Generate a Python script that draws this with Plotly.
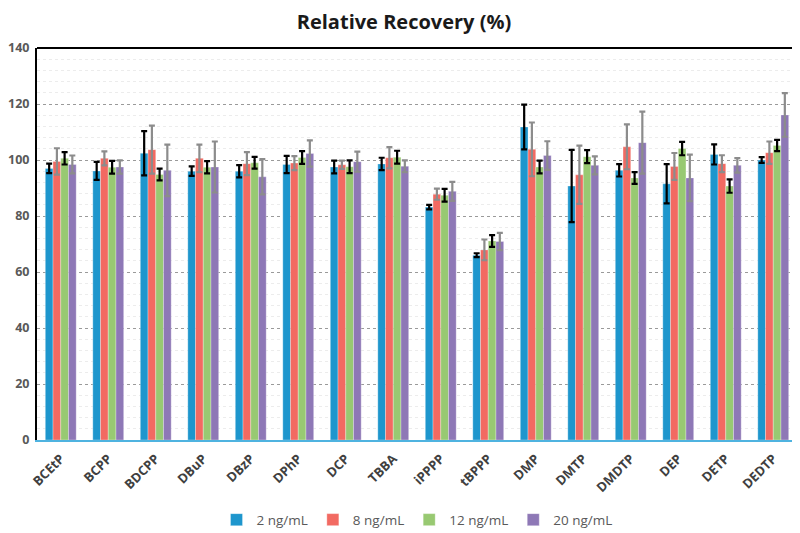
import plotly.graph_objects as go

categories = ["BCEtP", "BCPP", "BDCPP", "DBuP", "DBzP", "DPhP", "DCP", "TBBA",
              "iPPPP", "tBPPP", "DMP", "DMTP", "DMDTP", "DEP", "DETP", "DEDTP"]

series_names = ["2 ng/mL", "8 ng/mL", "12 ng/mL", "20 ng/mL"]

vals_2 = [97.0, 96.1, 102.4, 96.0, 96.0, 98.4, 97.5, 98.6, 83.2, 66.0, 111.8, 90.7, 96.3, 91.5, 102.0, 100.0]
err_2 = [1.7, 3.2, 7.9, 1.7, 2.2, 3.1, 2.3, 2.2, 0.8, 0.7, 8.0, 12.9, 2.2, 7.0, 3.6, 1.0]

vals_8 = [99.5, 100.6, 103.7, 100.6, 98.7, 98.9, 98.3, 100.8, 87.8, 67.9, 103.8, 94.7, 104.7, 97.7, 98.7, 102.6]
err_8 = [4.7, 2.5, 8.6, 4.9, 4.1, 2.5, 1.5, 3.8, 2.0, 3.7, 9.6, 10.4, 8.0, 4.8, 3.0, 4.0]

vals_12 = [100.6, 97.4, 94.8, 97.4, 99.0, 100.9, 97.6, 101.0, 87.4, 71.1, 97.5, 101.2, 93.6, 104.1, 90.7, 105.2]
err_12 = [2.2, 2.3, 2.1, 2.2, 2.1, 2.3, 2.3, 2.3, 2.3, 2.1, 2.3, 2.3, 2.1, 2.4, 2.4, 2.0]

vals_20 = [98.4, 97.5, 96.3, 97.5, 94.0, 102.3, 99.4, 97.8, 88.8, 70.9, 101.6, 98.1, 106.2, 93.6, 98.1, 116.1]
err_20 = [3.2, 2.4, 9.2, 9.1, 6.3, 4.7, 3.6, 2.1, 3.4, 3.1, 5.1, 3.2, 11.1, 8.3, 2.6, 7.8]

colors = ["#1E96CD", "#F26A62", "#98C972", "#8E78B6"]
err_colors = ["#000000", "#8C8C8C", "#000000", "#8C8C8C"]

fig = go.Figure()
for name, v, e, c, ec in zip(series_names, [vals_2, vals_8, vals_12, vals_20],
                             [err_2, err_8, err_12, err_20], colors, err_colors):
    fig.add_trace(go.Bar(
        x=categories, y=v, name=name,
        marker=dict(color=c, line=dict(color="rgba(255,255,255,0.6)", width=0.5)),
        error_y=dict(type="data", array=e, visible=True, color=ec, thickness=2.2, width=3),
    ))

# page body has an 8px margin, so the figure is sized to fit the 800x533 window
fig.update_layout(
    width=792, height=525,
    margin=dict(l=29, r=3, t=40, b=93),
    paper_bgcolor="white", plot_bgcolor="white",
    barmode="group", bargap=0.35, bargroupgap=0,
    title=dict(text="<b>Relative Recovery (%)</b>", x=0.5, xanchor="center",
               yref="container", y=1.0, yanchor="top", pad=dict(t=7),
               font=dict(family="Open Sans, Noto Sans, sans-serif", size=20, color="#1a1a1a")),
    font=dict(family="Open Sans, Noto Sans, sans-serif", color="#595959"),
    legend=dict(orientation="h", x=0.5, xanchor="center", yref="container", y=0.025, yanchor="middle",
                font=dict(size=13.5, color="#595959"), traceorder="normal"),
    showlegend=True,
)

fig.update_yaxes(
    range=[0, 140], dtick=20, showgrid=True, gridcolor="#9a9a9a", griddash="dot", gridwidth=1,
    minor=dict(dtick=4, showgrid=True, gridcolor="#ececec", gridwidth=1),
    showline=True, linecolor="#000000", linewidth=2, mirror=False,
    zeroline=False, ticks="", automargin=False,
    tickfont=dict(size=12.5, color="#595959", family="Open Sans, sans-serif", weight="bold"),
    ticklabelstandoff=3,
)
fig.update_xaxes(
    showline=True, linecolor="#4FB3E0", linewidth=2, tickangle=-45, ticks="", automargin=False,
    tickfont=dict(size=13, color="#404040", family="Open Sans, sans-serif", weight="bold"),
    showgrid=False, ticklabelstandoff=4,
)

# top and right border lines
fig.add_shape(type="line", xref="paper", yref="paper", x0=0, x1=1, y0=1, y1=1,
              line=dict(color="#000000", width=2))
fig.add_shape(type="line", xref="paper", yref="paper", x0=1, x1=1, y0=0, y1=1,
              line=dict(color="#404040", width=1.5))

fig.write_html("out.html")
